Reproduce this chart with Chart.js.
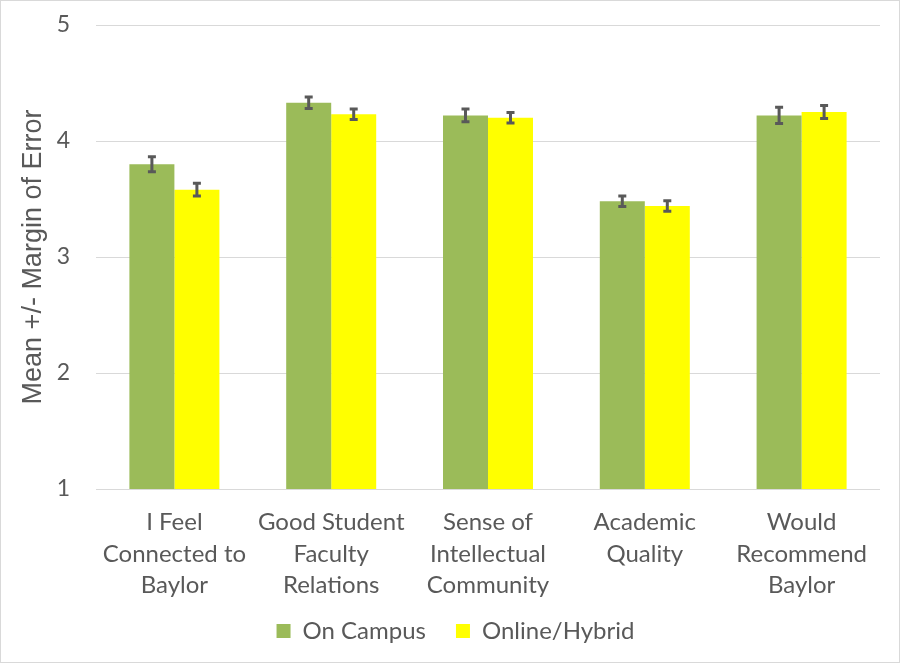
<!DOCTYPE html>
<html>
<head>
<meta charset="utf-8">
<script src="https://cdn.jsdelivr.net/npm/chart.js@4.4.0/dist/chart.umd.min.js"></script>
<style>
  html, body { margin: 0; padding: 0; background: #fff; }
  #wrap { width: 900px; height: 663px; box-sizing: border-box; border: 1px solid #d9d9d9; position: relative; }
</style>
</head>
<body>
<div id="wrap"><canvas id="chart"></canvas></div>
<script>
const categories = [
  ['I Feel', 'Connected to', 'Baylor'],
  ['Good Student', 'Faculty', 'Relations'],
  ['Sense of', 'Intellectual', 'Community'],
  ['Academic', 'Quality'],
  ['Would', 'Recommend', 'Baylor']
];
const onCampus = [3.80, 4.33, 4.22, 3.48, 4.22];
const onlineHybrid = [3.58, 4.23, 4.20, 3.44, 4.25];
// margins of error
const onCampusErr = [0.065, 0.05, 0.055, 0.045, 0.07];
const onlineHybridErr = [0.055, 0.045, 0.045, 0.045, 0.055];
const yTicks = [1, 2, 3, 4, 5];

const textColor = '#595959';
const font = 'Lato, "Noto Sans", sans-serif';

// draw the +/- error bars on top of each bar, using the chart's own y scale
const errorBars = {
  id: 'errorBars',
  afterDatasetsDraw(chart) {
    const ctx = chart.ctx;
    const y = chart.scales.y;
    ctx.save();
    ctx.strokeStyle = '#595959';
    ctx.lineWidth = 3;
    chart.data.datasets.forEach((ds, i) => {
      const meta = chart.getDatasetMeta(i);
      meta.data.forEach((bar, j) => {
        const v = ds.data[j], e = ds.errors[j];
        const top = y.getPixelForValue(v + e);
        const bot = y.getPixelForValue(v - e);
        const x = bar.x;
        ctx.beginPath();
        ctx.moveTo(x, top); ctx.lineTo(x, bot);
        ctx.moveTo(x - 4, top); ctx.lineTo(x + 4, top);
        ctx.moveTo(x - 4, bot); ctx.lineTo(x + 4, bot);
        ctx.stroke();
      });
    });
    ctx.restore();
  }
};

// legend sits a bit closer to the axis labels than its padding would allow
const legendNudge = {
  id: 'legendNudge',
  afterLayout(chart) {
    const lg = chart.legend;
    lg.top -= 13;
    lg.bottom -= 13;
    lg.left += 15;
    lg.right += 15;
  }
};

new Chart(document.getElementById('chart'), {
  type: 'bar',
  data: {
    labels: categories,
    datasets: [
      { label: 'On Campus', data: onCampus, errors: onCampusErr, backgroundColor: '#9BBB59' },
      { label: 'Online/Hybrid', data: onlineHybrid, errors: onlineHybridErr, backgroundColor: '#FFFF00' }
    ]
  },
  options: {
    responsive: true,
    maintainAspectRatio: false,
    animation: false,
    layout: { padding: { top: 24, right: 19, bottom: 0, left: 0 } },
    datasets: { bar: { categoryPercentage: 0.574, barPercentage: 1 } },
    plugins: {
      tooltip: { enabled: false },
      legend: {
        position: 'bottom',
        maxHeight: 60,
        labels: { color: textColor, font: { family: font, size: 24 }, boxWidth: 14, boxHeight: 14, padding: 30 }
      }
    },
    scales: {
      x: {
        afterFit(scale) { scale.height = 113; },
        grid: { display: false },
        border: { display: false },
        ticks: { color: textColor, font: { family: font, size: 24, lineHeight: 1.31 }, maxRotation: 0, autoSkip: false, padding: 10 }
      },
      y: {
        min: 1, max: 5,
        afterFit(scale) { scale.width = 95; },
        afterBuildTicks(scale) { scale.ticks = yTicks.map(v => ({ value: v })); },
        grid: { color: '#d9d9d9', lineWidth: 1, tickLength: 23, tickColor: 'rgba(0,0,0,0)' },
        border: { display: false },
        ticks: { color: textColor, font: { family: font, size: 23 }, padding: 3 },
        title: { display: true, text: 'Mean +/- Margin of Error', color: textColor, font: { family: '"Liberation Sans", Arial, sans-serif', size: 27 }, padding: { top: 16, bottom: 0 } }
      }
    }
  },
  plugins: [errorBars, legendNudge]
});
</script>
</body>
</html>
